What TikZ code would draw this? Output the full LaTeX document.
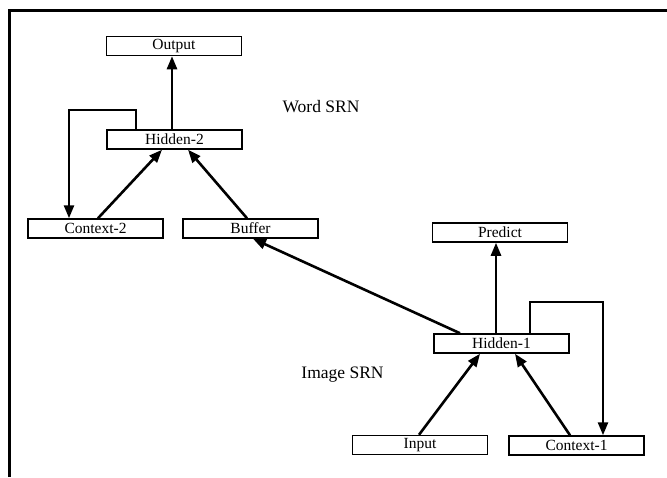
\documentclass[tikz,border=0pt]{standalone}
\usepackage{fontspec}
\setmainfont{Liberation Serif}
\usetikzlibrary{arrows.meta,calc}
\begin{document}
\begin{tikzpicture}[x=1pt,y=-1pt,
  unit/.style={draw,line width=1.5pt,minimum width=135pt,minimum height=19pt,inner sep=0pt,
    font=\fontsize{15.5}{16}\selectfont},
  arr/.style={line width=2.6pt,-{Triangle[length=13pt,width=10pt]}},
  lbl/.style={font=\fontsize{17.5}{18}\selectfont,inner sep=0pt}]
\useasboundingbox (0,0) rectangle (667,477);
% frame
\draw[line width=2.8pt] (9.5,477) -- (9.5,10.5) -- (667,10.5);
% Word SRN
\node[unit] (out) at (174,46) {Output};
\node[unit] (h2) at (174.5,139.5) {Hidden-2};
\node[unit] (ctx2) at (95.5,228.5) {Context-2};
\node[unit] (buf) at (250.5,228.5) {Buffer};
% Image SRN
\node[unit] (pred) at (500,232.5) {Predict};
\node[unit] (h1) at (501.5,343.5) {Hidden-1};
\node[unit] (inp) at (420,445) {Input};
\node[unit] (ctx1) at (576.5,445.5) {Context-1};
% labels
\node[lbl] (wsrn) at (321,106.5) {Word SRN};
\node[lbl] (isrn) at (342.5,375) {Image SRN};
% loop coordinates
\coordinate (l2a) at (136,110);
\coordinate (l2b) at (69,110);
\coordinate (l1a) at (530,302);
\coordinate (l1b) at (603,302);
% connectors word SRN
\draw[arr] ($(h2.north)+(-2.5,0)$) -- ($(out.south)+(-2,0)$);
\draw[arr] (l2a |- h2.north) -- (l2a) -- (l2b) -- (l2b |- ctx2.north);
\draw[arr] ($(ctx2.north)+(2.5,0)$) -- ($(h2.south)+(-12.5,0)$);
\draw[arr] ($(buf.north)+(-3.5,0)$) -- ($(h2.south)+(13.5,0)$);
% connectors image SRN
\draw[arr] ($(h1.north)+(-5.5,0)$) -- ($(pred.south)+(-4,0)$);
\draw[arr] (l1a |- h1.north) -- (l1a) -- (l1b) -- (l1b |- ctx1.north);
\draw[arr] ($(inp.north)+(-1,0)$) -- ($(h1.south)+(-21.5,0)$);
\draw[arr] ($(ctx1.north)+(-6.5,0)$) -- ($(h1.south)+(13.5,0)$);
\draw[arr] ($(h1.north)+(-41.5,0)$) -- ($(buf.south)+(2.5,0)$);
\end{tikzpicture}
\end{document}
